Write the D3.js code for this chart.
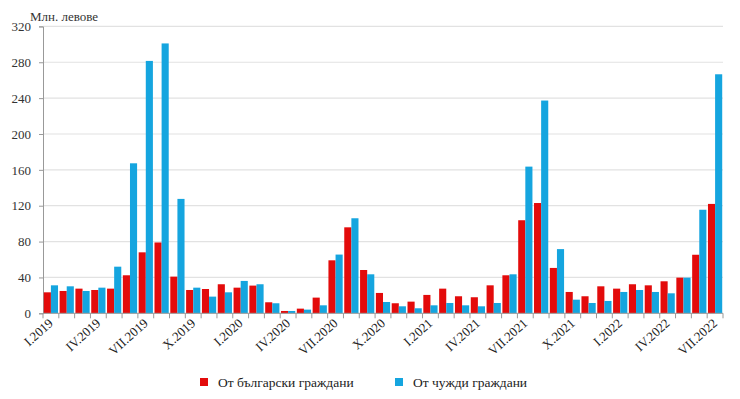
<!DOCTYPE html>
<html><head><meta charset="utf-8">
<script src="https://cdn.jsdelivr.net/npm/d3@7"></script>
<style>body{margin:0;background:#fff}svg{display:block}
text{font-family:"Liberation Serif","DejaVu Serif","Times New Roman",serif}</style>
</head><body>
<svg id="chart" width="740" height="399"></svg>
<script>
const months = ["I","II","III","IV","V","VI","VII","VIII","IX","X","XI","XII"];
const categories = [];
for (let y = 2019; y <= 2022; y++) for (const m of months) categories.push(m + "." + y);
categories.length = 43; // I.2019 – VII.2022

const bulgarian = [23.4,24.9,27.5,26,27.5,42.4,68,79,40.9,26,27.1,32.4,
  28.6,30.9,12.3,2.6,5.2,17.5,59.1,95.9,48.3,22.7,11.2,13,
  20.5,27.5,19,17.9,31.2,42.4,103.8,123,50.6,23.8,19,30.1,
  27.5,32.4,31.2,35.7,39.8,65.3,122];
const foreign = [31.2,30.1,24.9,28.6,52,167.3,281.5,301,127.6,28.6,18.6,23.4,
  36.1,32.4,11.2,2.6,4.1,8.9,65.5,106,43.5,12.6,7.8,5.6,
  8.9,11.5,8.9,7.8,11.5,43.5,163.6,237.3,71.6,15.2,11.5,13.8,
  23.8,26,23.8,22.3,39.8,115.5,266.6];
const yTicks = [0,40,80,120,160,200,240,280,320];
const seriesNames = ["От български граждани","От чужди граждани"];
const colors = ["#e30b0b","#15a5df"];

const svg = d3.select("#chart");
const margin = {left:43, right:17, top:26.4, bottom:85.7};
const W = 740, H = 399;
const x = d3.scaleBand().domain(categories).range([margin.left, W - margin.right]).paddingInner(0.1).paddingOuter(0.05);
const x1 = d3.scaleBand().domain([0,1]).range([0, x.bandwidth()]);
const y = d3.scaleLinear().domain([0,320]).range([H - margin.bottom, margin.top]);

// gridlines
svg.append("g").selectAll("line").data(yTicks.filter(d=>d>0)).join("line")
  .attr("x1", margin.left).attr("x2", W - margin.right)
  .attr("y1", d=>y(d)).attr("y2", d=>y(d))
  .attr("stroke", "#e2e2e2").attr("stroke-width", 1.2);

// y axis
const yAxis = svg.append("g").attr("transform", `translate(${margin.left},0)`)
  .call(d3.axisLeft(y).tickValues(yTicks).tickSize(4).tickPadding(8));
yAxis.attr("font-family", null);
yAxis.select(".domain").attr("stroke", "#999");
yAxis.selectAll(".tick line").attr("stroke", "#999");
yAxis.selectAll("text").attr("font-size", 13).attr("fill", "#333");

svg.append("text").attr("x", 30).attr("y", 21)
  .attr("font-size", 13).attr("fill", "#333").text("Млн. левове");

// bars
const groups = svg.append("g").selectAll("g").data(categories).join("g")
  .attr("transform", d => `translate(${x(d)},0)`);
groups.selectAll("rect").data((d,i) => [bulgarian[i], foreign[i]]).join("rect")
  .attr("x", (d,j) => x1(j)).attr("width", x1.bandwidth())
  .attr("y", d => y(d)).attr("height", d => y(0) - y(d))
  .attr("fill", (d,j) => colors[j]);

// x axis with ticks at category boundaries
const bounds = d3.range(categories.length + 1).map(i => margin.left + (W - margin.right - margin.left) * i / categories.length);
const xg = svg.append("g");
xg.append("line").attr("x1", margin.left).attr("x2", W - margin.right)
  .attr("y1", y(0)).attr("y2", y(0)).attr("stroke", "#999");
xg.selectAll(".tk").data(bounds).join("line").attr("class","tk")
  .attr("x1", d=>d).attr("x2", d=>d).attr("y1", y(0)).attr("y2", y(0)+5).attr("stroke", "#999");
xg.selectAll("text").data(categories.filter((d,i) => i % 3 === 0)).join("text")
  .attr("transform", d => `translate(${x(d) + x.bandwidth()/2 + 3},${y(0) + 11}) rotate(-42)`)
  .attr("text-anchor", "end").attr("font-size", 13).attr("fill", "#222")
  .text(d => d);

// legend
const legendX = [200, 395];
const lg = svg.append("g").selectAll("g").data(seriesNames).join("g")
  .attr("transform", (d,i) => `translate(${legendX[i]},378)`);
lg.append("rect").attr("width", 8).attr("height", 8).attr("fill", (d,i) => colors[i]);
lg.append("text").attr("x", 18).attr("y", 8.5).attr("font-size", 13.5)
  .attr("fill", "#222").text(d => d);
</script>
</body></html>
